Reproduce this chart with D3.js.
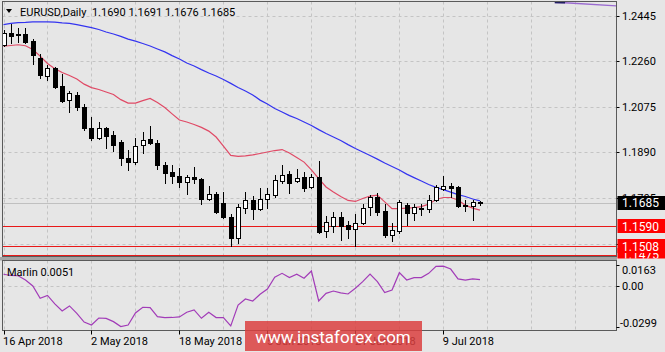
<!DOCTYPE html>
<html>
<head>
<meta charset="utf-8">
<script src="https://cdn.jsdelivr.net/npm/d3@7"></script>
<style>
  html, body { margin: 0; padding: 0; background: #e6e6e6; }
  svg { display: block; font-family: Roboto, "Liberation Sans", sans-serif; }
</style>
</head>
<body>
<div id="chart"></div>
<script>
// ---------------------------------------------------------
// EURUSD daily, 16 Apr – 16 Jul 2018
// ---------------------------------------------------------
const open = [1.2327,1.2376,1.2372,1.2372,1.2343,1.2274,1.2201,1.2234,1.2160,1.2103,
  1.2124,1.2075,1.1990,1.1949,1.1990,1.1961,1.1933,1.1868,1.1851,1.1920,
  1.1945,1.1929,1.1839,1.1811,1.1794,1.1770,1.1790,1.1782,1.1701,1.1721,
  1.1685,1.1628,1.1542,1.1664,1.1697,1.1660,1.1701,1.1717,1.1774,1.1803,
  1.1774,1.1790,1.1750,1.1790,1.1571,1.1591,1.1628,1.1595,1.1579,1.1603,
  1.1668,1.1709,1.1652,1.1554,1.1571,1.1676,1.1644,1.1664,1.1660,1.1697,
  1.1742,1.1754,1.1750,1.1676,1.1672,1.1690];
const high = [1.2388,1.2412,1.2396,1.2396,1.2351,1.2290,1.2246,1.2238,1.2209,1.2140,
  1.2136,1.2087,1.2034,1.2014,1.1994,1.1977,1.1941,1.1900,1.1949,1.1973,
  1.1998,1.1941,1.1851,1.1839,1.1827,1.1798,1.1831,1.1786,1.1754,1.1729,
  1.1729,1.1640,1.1681,1.1729,1.1713,1.1746,1.1746,1.1798,1.1839,1.1815,
  1.1823,1.1811,1.1803,1.1855,1.1632,1.1648,1.1648,1.1611,1.1640,1.1681,
  1.1717,1.1725,1.1681,1.1603,1.1697,1.1685,1.1681,1.1681,1.1717,1.1758,
  1.1794,1.1766,1.1752,1.1697,1.1697,1.1691];
const low = [1.2323,1.2335,1.2339,1.2335,1.2250,1.2193,1.2185,1.2154,1.2095,1.2055,
  1.2063,1.1981,1.1941,1.1945,1.1908,1.1896,1.1839,1.1819,1.1843,1.1888,
  1.1924,1.1823,1.1766,1.1766,1.1750,1.1721,1.1766,1.1681,1.1697,1.1644,
  1.1624,1.1510,1.1522,1.1644,1.1620,1.1656,1.1664,1.1709,1.1766,1.1725,
  1.1770,1.1733,1.1746,1.1563,1.1546,1.1567,1.1534,1.1542,1.1508,1.1600,
  1.1636,1.1636,1.1546,1.1530,1.1563,1.1595,1.1615,1.1636,1.1648,1.1693,
  1.1737,1.1709,1.1668,1.1652,1.1615,1.1676];
const close = [1.2376,1.2364,1.2368,1.2339,1.2286,1.2205,1.2234,1.2156,1.2099,1.2132,
  1.2075,1.1990,1.1949,1.1990,1.1957,1.1920,1.1868,1.1851,1.1916,1.1941,
  1.1929,1.1839,1.1807,1.1794,1.1770,1.1790,1.1782,1.1701,1.1721,1.1648,
  1.1628,1.1542,1.1668,1.1697,1.1660,1.1701,1.1721,1.1778,1.1798,1.1766,
  1.1786,1.1746,1.1790,1.1567,1.1607,1.1628,1.1591,1.1579,1.1603,1.1664,
  1.1709,1.1648,1.1554,1.1575,1.1689,1.1644,1.1668,1.1660,1.1697,1.1750,
  1.1754,1.1746,1.1672,1.1672,1.1689,1.1685];

// slow MA (blue) and fast MA (red)
const maSlow = [1.2410,1.2415,1.2418,1.2419,1.2421,1.2421,1.2421,1.2420,1.2417,1.2415,
  1.2410,1.2404,1.2398,1.2390,1.2380,1.2372,1.2362,1.2351,1.2343,1.2333,
  1.2323,1.2311,1.2299,1.2284,1.2270,1.2254,1.2242,1.2227,1.2213,1.2201,
  1.2187,1.2171,1.2154,1.2140,1.2124,1.2103,1.2087,1.2069,1.2055,1.2040,
  1.2028,1.2014,1.2000,1.1983,1.1967,1.1953,1.1939,1.1922,1.1906,1.1892,
  1.1878,1.1863,1.1847,1.1833,1.1819,1.1802,1.1788,1.1774,1.1760,1.1748,
  1.1739,1.1729,1.1719,1.1711,1.1701,1.1693];
const maFast = [1.2322,1.2325,1.2328,1.2324,1.2309,1.2282,1.2252,1.2231,1.2215,1.2203,
  1.2189,1.2168,1.2154,1.2146,1.2136,1.2126,1.2105,1.2091,1.2091,1.2101,
  1.2110,1.2093,1.2073,1.2047,1.2022,1.2014,1.2004,1.1992,1.1977,1.1953,
  1.1916,1.1878,1.1874,1.1876,1.1880,1.1886,1.1892,1.1898,1.1902,1.1888,
  1.1870,1.1851,1.1819,1.1784,1.1750,1.1729,1.1711,1.1695,1.1691,1.1703,
  1.1713,1.1717,1.1689,1.1662,1.1662,1.1664,1.1666,1.1670,1.1680,1.1699,
  1.1707,1.1707,1.1697,1.1676,1.1664,1.1656];

// Marlin oscillator
const marlin = [0.0091,0.0082,0.0080,0.0048,0.0004,-0.0088,-0.0067,-0.0130,-0.0183,-0.0145,
  -0.0200,-0.0265,-0.0287,-0.0235,-0.0238,-0.0262,-0.0299,-0.0287,-0.0197,-0.0155,
  -0.0158,-0.0225,-0.0232,-0.0231,-0.0227,-0.0192,-0.0175,-0.0237,-0.0192,-0.0232,
  -0.0232,-0.0294,-0.0138,-0.0093,-0.0108,-0.0058,-0.0019,0.0069,0.0098,0.0066,
  0.0091,0.0061,0.0115,-0.0108,-0.0051,-0.0034,-0.0048,-0.0056,-0.0013,0.0036,
  0.0093,0.0036,-0.0046,-0.0026,0.0103,0.0048,0.0066,0.0066,0.0098,0.0150,
  0.0152,0.0130,0.0056,0.0048,0.0056,0.0051];

// trend line in the top right corner (bar index, price)
const trendBars = [75.2, 76.6, 83.6];
const trendPrices = [1.2500, 1.2499, 1.2486];

const priceTicks = [1.2445, 1.2260, 1.2075, 1.1890, 1.1705, 1.1520];
const levels = [1.1475, 1.1508, 1.1590];
const lastPrice = 1.1685;
const marlinTicks = [0.0163, 0, -0.0299];
const marlinTickText = ['0.0163', '0.00', '-0.0299'];
const dateBars = [0, 12, 24, 36, 48, 60];
const dateText = ['16 Apr 2018', '2 May 2018', '18 May 2018', '5 Jun 2018', '21 Jun 2018', '9 Jul 2018'];
const title = 'EURUSD,Daily  1.1690 1.1691 1.1676 1.1685';
const marlinLabel = 'Marlin 0.0051';

// ---------------------------------------------------------
const W = 665, H = 352;
const P = { left: 2.5, right: 616.5, top: 1.5, bottom: 256.5 };   // main window
const S = { top: 260.5, bottom: 330.5 };                             // indicator window
const BG = '#e6e6e6';

const svg = d3.select('#chart').append('svg').attr('width', W).attr('height', H);
svg.append('rect').attr('width', W).attr('height', H).attr('fill', BG);

const defs = svg.append('defs');
defs.append('clipPath').attr('id', 'clipMain').append('rect')
  .attr('x', P.left).attr('y', P.top).attr('width', P.right - P.left).attr('height', P.bottom - P.top);
defs.append('clipPath').attr('id', 'clipSub').append('rect')
  .attr('x', P.left).attr('y', S.top).attr('width', P.right - P.left).attr('height', S.bottom - S.top);
defs.append('clipPath').attr('id', 'clipAxis').append('rect')
  .attr('x', P.right).attr('y', 0).attr('width', W - P.right).attr('height', P.bottom + 2);

const x = d3.scaleLinear().domain([0, 65]).range([3.5, 480]);
const y = d3.scaleLinear().domain([1.1520, 1.2445]).range([243.5, 16]);
const ys = d3.scaleLinear().domain([-0.0299, 0.0163]).range([326.6, 264.6]);
const px = v => Math.round(v) + 0.5;

const main = svg.append('g').attr('clip-path', 'url(#clipMain)');
const sub = svg.append('g').attr('clip-path', 'url(#clipSub)');

// grid
const gridBars = d3.range(0, 84, 6);
[main, sub].forEach((g, k) => {
  g.selectAll('line.vgrid').data(gridBars).join('line').attr('class', 'vgrid')
    .attr('x1', d => px(x(d))).attr('x2', d => px(x(d)))
    .attr('y1', k ? S.top : P.top).attr('y2', k ? S.bottom : P.bottom)
    .attr('stroke', '#c4c4c4').attr('stroke-dasharray', '3,3');
});
main.selectAll('line.hgrid').data(priceTicks).join('line').attr('class', 'hgrid')
  .attr('x1', P.left).attr('x2', P.right)
  .attr('y1', d => px(y(d))).attr('y2', d => px(y(d)))
  .attr('stroke', '#c4c4c4').attr('stroke-dasharray', '3,3');
sub.append('line')
  .attr('x1', P.left).attr('x2', P.right)
  .attr('y1', px(ys(0))).attr('y2', px(ys(0)))
  .attr('stroke', '#c4c4c4').attr('stroke-dasharray', '3,3');

// bid line and horizontal levels
main.append('line')
  .attr('x1', P.left).attr('x2', P.right)
  .attr('y1', px(y(lastPrice))).attr('y2', px(y(lastPrice)))
  .attr('stroke', '#c0c0c0');
main.selectAll('line.level').data(levels).join('line').attr('class', 'level')
  .attr('x1', P.left).attr('x2', P.right)
  .attr('y1', d => px(y(d))).attr('y2', d => px(y(d)))
  .attr('stroke', '#e81818');

// moving averages
const bars = d3.range(open.length);
const line = d3.line().x(i => x(i));
main.append('path').datum(bars)
  .attr('d', line.y(i => y(maFast[i])))
  .attr('fill', 'none').attr('stroke', '#e04a66').attr('stroke-width', 1.2);
main.append('path').datum(bars)
  .attr('d', line.y(i => y(maSlow[i])))
  .attr('fill', 'none').attr('stroke', '#3434f0').attr('stroke-width', 1.2);

// trend line top right
main.append('path').datum(d3.range(trendBars.length))
  .attr('d', d3.line().x(i => x(trendBars[i])).y(i => y(trendPrices[i])))
  .attr('fill', 'none').attr('stroke', '#9a6ad0').attr('stroke-width', 1.4);
main.append('line')
  .attr('x1', x(trendBars[0])).attr('x2', x(trendBars[1]))
  .attr('y1', y(trendPrices[0])).attr('y2', y(trendPrices[1]))
  .attr('stroke', '#202060').attr('stroke-width', 1.4);

// candles
const candle = main.selectAll('g.candle').data(bars).join('g').attr('class', 'candle');
candle.append('line')
  .attr('x1', i => px(x(i))).attr('x2', i => px(x(i)))
  .attr('y1', i => Math.round(y(high[i]))).attr('y2', i => Math.round(y(low[i])) + 1)
  .attr('stroke', '#000');
candle.append('rect')
  .attr('x', i => Math.round(x(i)) - 1.5)
  .attr('width', 4)
  .attr('y', i => Math.round(y(Math.max(open[i], close[i]))) + 0.5)
  .attr('height', i => Math.max(1, Math.round(y(Math.min(open[i], close[i]))) - Math.round(y(Math.max(open[i], close[i])))))
  .attr('fill', i => close[i] >= open[i] ? '#fff' : '#000')
  .attr('stroke', '#000');

// Marlin line
sub.append('path').datum(bars)
  .attr('d', d3.line().x(i => x(i)).y(i => ys(marlin[i])))
  .attr('fill', 'none').attr('stroke', '#a23cb8').attr('stroke-width', 1.2);

// frames and splitter
svg.append('rect').attr('x', 0).attr('y', P.bottom + 0.5).attr('width', P.right + 0.5).attr('height', 3.5)
  .attr('fill', '#a4a4a4');
svg.append('rect').attr('x', P.left).attr('y', P.top).attr('width', P.right - P.left).attr('height', P.bottom - P.top)
  .attr('fill', 'none').attr('stroke', '#5a5a5a');
svg.append('rect').attr('x', P.left).attr('y', S.top).attr('width', P.right - P.left).attr('height', S.bottom - S.top)
  .attr('fill', 'none').attr('stroke', '#5a5a5a');

// right price axis
const axisG = svg.append('g').attr('clip-path', 'url(#clipAxis)')
  .style('font-size', '11px');
priceTicks.forEach(v => {
  axisG.append('line').attr('x1', P.right).attr('x2', P.right + 3)
    .attr('y1', px(y(v))).attr('y2', px(y(v))).attr('stroke', '#000');
  axisG.append('text').attr('x', 622).attr('y', y(v)).attr('dy', '0.36em')
    .attr('fill', '#000').text(v.toFixed(4));
});
const tags = [
  { v: levels[0], bg: '#ff0000', fg: '#fff' },
  { v: levels[1], bg: '#ff0000', fg: '#fff' },
  { v: levels[2], bg: '#ff0000', fg: '#fff' },
  { v: lastPrice, bg: '#000', fg: '#fff' },
];
tags.forEach(t => {
  axisG.append('rect').attr('x', P.right + 1).attr('y', Math.round(y(t.v)) - 7)
    .attr('width', W - P.right).attr('height', 14).attr('fill', t.bg);
  axisG.append('text').attr('x', 622).attr('y', y(t.v)).attr('dy', '0.36em')
    .attr('fill', t.fg).style('font-size', '12px').text(t.v.toFixed(4));
});

// indicator axis
marlinTicks.forEach((v, k) => {
  const yy = k === 0 ? 270 : k === 2 ? 323.5 : ys(v);
  svg.append('line').attr('x1', P.right).attr('x2', P.right + 3)
    .attr('y1', px(ys(v))).attr('y2', px(ys(v))).attr('stroke', '#000');
  svg.append('text').attr('x', k === 2 ? 620 : 622).attr('y', yy).attr('dy', '0.36em')
    .style('font-size', '11px').attr('fill', '#000').text(marlinTickText[k]);
});

// dates
dateBars.forEach((b, k) => {
  svg.append('line').attr('x1', px(x(b))).attr('x2', px(x(b)))
    .attr('y1', S.bottom).attr('y2', S.bottom + 4).attr('stroke', '#000');
  svg.append('text').attr('x', x(b) - 0.5).attr('y', 345)
    .style('font-size', '11px').attr('fill', '#000').text(dateText[k]);
});

// title and indicator label
svg.append('path').attr('d', 'M6,9 L12,9 L9,13 Z').attr('fill', '#000');
svg.append('text').attr('x', 20).attr('y', 16).style('font-size', '11px')
  .attr('fill', '#000').attr('xml:space', 'preserve').style('white-space', 'pre').text(title);
svg.append('text').attr('x', 7).attr('y', 276).style('font-size', '11px')
  .attr('fill', '#000').text(marlinLabel);

// watermark
svg.append('rect').attr('x', 245).attr('y', 321).attr('width', 177).attr('height', 30)
  .attr('fill', 'rgba(218,63,63,0.85)');
svg.append('text').attr('x', 333).attr('y', 343).attr('text-anchor', 'middle')
  .style('font-size', '17px').attr('fill', '#fff').text('www.instaforex.com');
</script>
</body>
</html>
